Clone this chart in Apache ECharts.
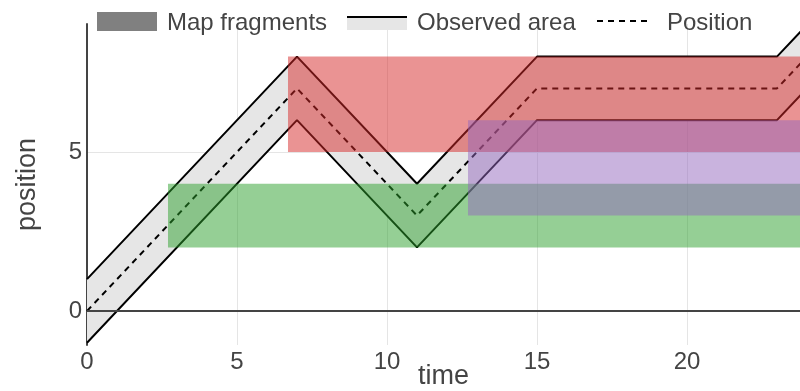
<!DOCTYPE html>
<html><head><meta charset="utf-8">
<script src="https://cdn.jsdelivr.net/npm/echarts@6/dist/echarts.min.js"></script>
<style>html,body{margin:0;padding:0;background:#fff}#c{width:800px;height:391px}</style>
</head><body><div id="c"></div>
<script>
// ---- data ----
const times = [0, 7, 11, 15, 23, 24];
const position = [0, 7, 3, 7, 7, 8];
const observedUpper = [1, 8, 4, 8, 8, 9];
const observedLower = [-1, 6, 2, 6, 6, 7];
const fragmentX0 = [2.7, 6.7, 12.7];
const fragmentX1 = [24, 24, 24];
const fragmentY0 = [2, 5, 3];
const fragmentY1 = [4, 8, 6];
const xTicks = [0, 5, 10, 15, 20];
const yTicks = [0, 5];
const legendNames = ['Map fragments', 'Observed area', 'Position'];

// ---- styles ----
const fragmentColors = ['#2ca02c', '#d62728', '#9467bd'];
const FONT = 'Liberation Sans, Arial, sans-serif';
const TXT = '#444';

const upperData = times.map((t, i) => [t, observedUpper[i]]);
const lowerData = times.map((t, i) => [t, observedLower[i]]);
const posData = times.map((t, i) => [t, position[i]]);
const fragData = fragmentX0.map((x, i) => [x, fragmentX1[i], fragmentY0[i], fragmentY1[i]]);

const chart = echarts.init(document.getElementById('c'), null, {renderer: 'canvas'});
chart.setOption({
  animation: false,
  backgroundColor: '#fff',
  textStyle: {fontFamily: FONT},
  grid: {left: 87, right: 0, top: 24, bottom: 46, containLabel: false, outerBoundsMode: 'none'},
  xAxis: {
    type: 'value', min: 0, max: 23.767,
    name: 'time', nameLocation: 'middle', nameGap: 18, nameMoveOverlap: false,
    nameTextStyle: {fontSize: 27, color: TXT, fontFamily: FONT},
    axisLine: {show: false},
    axisTick: {show: false, customValues: xTicks},
    axisLabel: {customValues: xTicks, fontSize: 24, color: TXT, fontFamily: FONT, margin: 5},
    splitLine: {show: true, lineStyle: {color: '#e5e5e5', width: 1}}
  },
  yAxis: {
    type: 'value', min: -1.07, max: 9.025,
    name: 'position', nameLocation: 'middle', nameGap: 46, nameRotate: 90, nameMoveOverlap: false,
    nameTextStyle: {fontSize: 27, color: TXT, fontFamily: FONT},
    axisLine: {show: true, onZero: false, lineStyle: {color: TXT, width: 2}},
    axisTick: {show: false, customValues: yTicks},
    axisLabel: {customValues: yTicks, fontSize: 24, color: TXT, fontFamily: FONT, margin: 5},
    splitLine: {show: true, lineStyle: {color: '#e5e5e5', width: 1}}
  },
  series: [
    {
      name: 'band', type: 'custom', data: [[0]], z: 1, silent: true,
      renderItem: function (params, api) {
        const pts = [];
        upperData.forEach(d => pts.push(api.coord(d)));
        for (let i = lowerData.length - 1; i >= 0; i--) pts.push(api.coord(lowerData[i]));
        const cs = params.coordSys;
        return {type: 'polygon', shape: {points: pts},
          clipPath: {type: 'rect', shape: {x: cs.x, y: cs.y, width: cs.width, height: cs.height}},
          style: {fill: '#e6e6e6'}};
      }
    },
    {
      name: legendNames[1], type: 'line', data: upperData,
      symbol: 'none', lineStyle: {color: '#000', width: 2}, z: 3
    },
    {
      name: 'lower', type: 'line', data: lowerData,
      symbol: 'none', lineStyle: {color: '#000', width: 2}, z: 3,
      markLine: {silent: true, symbol: 'none', label: {show: false},
        lineStyle: {color: TXT, width: 2, type: 'solid'}, data: [{yAxis: 0}]}
    },
    {
      name: legendNames[2], type: 'line', data: posData, symbol: 'none',
      lineStyle: {color: '#000', width: 2, type: [6, 5]}, z: 3
    },
    {
      name: legendNames[0], type: 'custom', data: fragData, z: 5,
      encode: {x: [0, 1], y: [2, 3]},
      renderItem: function (params, api) {
        const p0 = api.coord([api.value(0), api.value(3)]);
        const p1 = api.coord([api.value(1), api.value(2)]);
        const cs = params.coordSys;
        const shape = echarts.graphic.clipRectByRect(
          {x: p0[0], y: p0[1], width: p1[0] - p0[0], height: p1[1] - p0[1]},
          {x: cs.x, y: cs.y, width: cs.width, height: cs.height});
        return shape && {type: 'rect', shape: shape,
          style: {fill: fragmentColors[params.dataIndex], opacity: 0.5}};
      }
    }
  ],
  graphic: [
    {type: 'rect', left: 97, top: 12, shape: {width: 60, height: 19}, style: {fill: '#808080'}, z: 10},
    {type: 'text', left: 167, top: 11, style: {text: legendNames[0], font: '24px ' + FONT, fill: TXT}, z: 10},
    {type: 'rect', left: 347, top: 17, shape: {width: 60, height: 13}, style: {fill: '#e6e6e6'}, z: 10},
    {type: 'line', shape: {x1: 347, y1: 17, x2: 407, y2: 17}, style: {stroke: '#000', lineWidth: 2}, z: 11},
    {type: 'text', left: 417, top: 11, style: {text: legendNames[1], font: '24px ' + FONT, fill: TXT}, z: 10},
    {type: 'line', shape: {x1: 597, y1: 21, x2: 652, y2: 21}, style: {stroke: '#000', lineWidth: 2, lineDash: [6, 5]}, z: 11},
    {type: 'text', left: 667, top: 11, style: {text: legendNames[2], font: '24px ' + FONT, fill: TXT}, z: 10}
  ]
});
</script>
</body></html>
